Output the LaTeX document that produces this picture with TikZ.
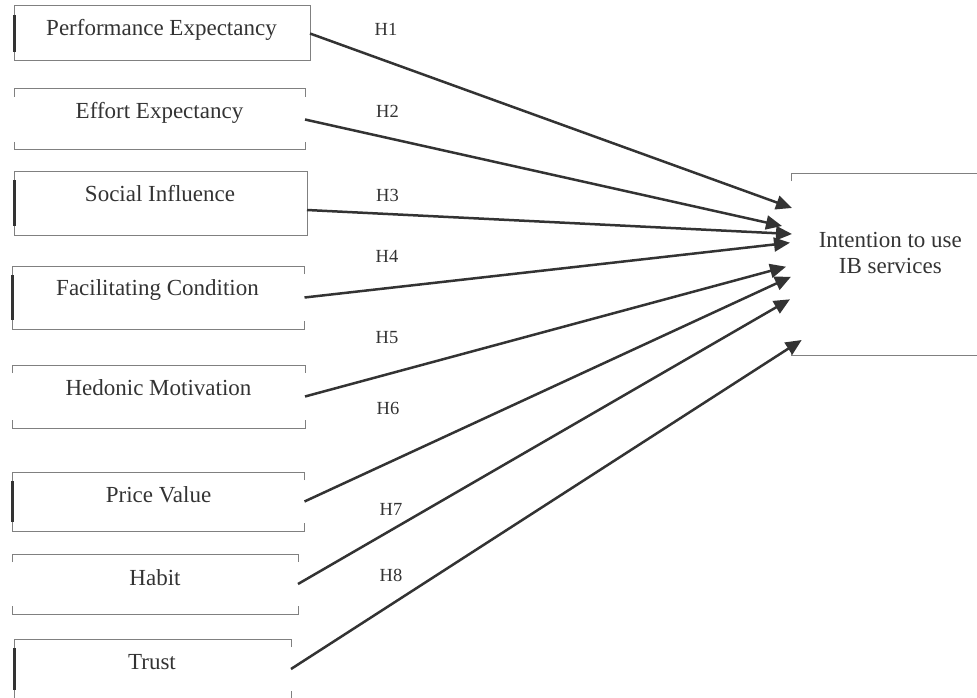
\documentclass[tikz,border=0pt]{standalone}
\usepackage{fontspec}
\setmainfont{Liberation Serif}
\usetikzlibrary{arrows.meta}
\definecolor{txtc}{HTML}{333333}
\definecolor{brd}{HTML}{808080}
\definecolor{arrc}{HTML}{333333}
\newcommand\drawfullbox[1]{\draw[border] (#1.north west) rectangle (#1.south east);}
\newcommand\drawtickbox[1]{%
  \draw[border] ([yshift=-8pt]#1.north west) -- (#1.north west) -- (#1.north east) -- ([yshift=-8pt]#1.north east);
  \draw[border] ([yshift=8pt]#1.south west) -- (#1.south west) -- (#1.south east) -- ([yshift=8pt]#1.south east);}
\newcommand\drawleftbox[1]{%
  \draw[border] ([yshift=-8pt]#1.north east) -- (#1.north east) -- (#1.north west) -- (#1.south west) -- (#1.south east) -- ([yshift=8pt]#1.south east);}
\newcommand\drawbar[1]{\draw[barline] ([yshift=-9pt]#1.north west) -- ([yshift=9pt]#1.south west);}
\begin{document}
\begin{tikzpicture}[x=1pt,y=-1pt,
  boxnode/.style={draw=none,inner sep=0pt,outer sep=0pt},
  lbl/.style={text=txtc,font=\fontsize{23}{26}\selectfont,anchor=base,inner sep=0pt},
  hyp/.style={text=txtc,font=\fontsize{18.5}{20}\selectfont,anchor=base,inner sep=0pt},
  border/.style={draw=brd,line width=1pt},
  barline/.style={draw=txtc,line width=3pt},
  link/.style={draw=arrc,line width=2.5pt,-{Triangle[length=16pt,width=14pt]}},
]
\useasboundingbox (0,0) rectangle (977,698);

% boxes
\node[boxnode,minimum width=296pt,minimum height=55pt] (pe) at (162,33.5) {};
\node[boxnode,minimum width=291pt,minimum height=61pt] (ee) at (159.5,119.5) {};
\node[boxnode,minimum width=293pt,minimum height=64pt] (si) at (160.5,203) {};
\node[boxnode,minimum width=292pt,minimum height=63pt] (fc) at (158.5,297.5) {};
\node[boxnode,minimum width=293pt,minimum height=63pt] (hm) at (158.5,396.5) {};
\node[boxnode,minimum width=292.5pt,minimum height=59pt] (pv) at (158.25,501.5) {};
\node[boxnode,minimum width=286pt,minimum height=60pt] (ha) at (155,584) {};
\node[boxnode,minimum width=277pt,minimum height=60pt] (tr) at (152.5,669) {};
\node[boxnode,minimum width=220pt,minimum height=182pt] (ib) at (901.5,264) {};

\drawfullbox{pe}\drawbar{pe}
\drawtickbox{ee}
\drawfullbox{si}\drawbar{si}
\drawleftbox{fc}\drawbar{fc}
\drawtickbox{hm}
\drawleftbox{pv}\drawbar{pv}
\drawtickbox{ha}
\drawleftbox{tr}\drawbar{tr}
\drawtickbox{ib}

% texts
\node[lbl] (pet) at (161.5,36) {Performance Expectancy};
\node[lbl] (eet) at (159.5,119) {Effort Expectancy};
\node[lbl] (sit) at (160,201.7) {Social Influence};
\node[lbl] (fct) at (157.5,295) {Facilitating Condition};
\node[lbl] (hmt) at (158.5,395) {Hedonic Motivation};
\node[lbl] (pvt) at (158.5,502.3) {Price Value};
\node[lbl] (hat) at (155,585.5) {Habit};
\node[lbl] (trt) at (152,669.3) {Trust};
\node[lbl,align=center] (ibt) at (890.3,273) {Intention to use\\IB services};

% hypothesis labels
\node[hyp] (h1) at (386,36) {H\oldstylenums{1}};
\node[hyp] (h2) at (387.5,117.3) {H\oldstylenums{2}};
\node[hyp] (h3) at (387.5,201.7) {H\oldstylenums{3}};
\node[hyp] (h4) at (387,262.3) {H\oldstylenums{4}};
\node[hyp] (h5) at (387,343.3) {H\oldstylenums{5}};
\node[hyp] (h6) at (388,414.3) {H\oldstylenums{6}};
\node[hyp] (h7) at (391,515) {H\oldstylenums{7}};
\node[hyp] (h8) at (391,581.7) {H\oldstylenums{8}};

% arrow tips
\coordinate (t1) at (792,208);
\coordinate (t2) at (782,226);
\coordinate (t3) at (792,234);
\coordinate (t4) at (790,242.7);
\coordinate (t5) at (786,266.7);
\coordinate (t6) at (791,276.7);
\coordinate (t7) at (790,299.3);
\coordinate (t8) at (801.7,340);

\draw[link] (pe.east) -- (t1);
\draw[link] (ee.east) -- (t2);
\draw[link] ([yshift=-7pt]si.east) -- (t3);
\draw[link] (fc.east) -- (t4);
\draw[link] (hm.east) -- (t5);
\draw[link] (pv.east) -- (t6);
\draw[link] (ha.east) -- (t7);
\draw[link] (tr.east) -- (t8);
\end{tikzpicture}
\end{document}
